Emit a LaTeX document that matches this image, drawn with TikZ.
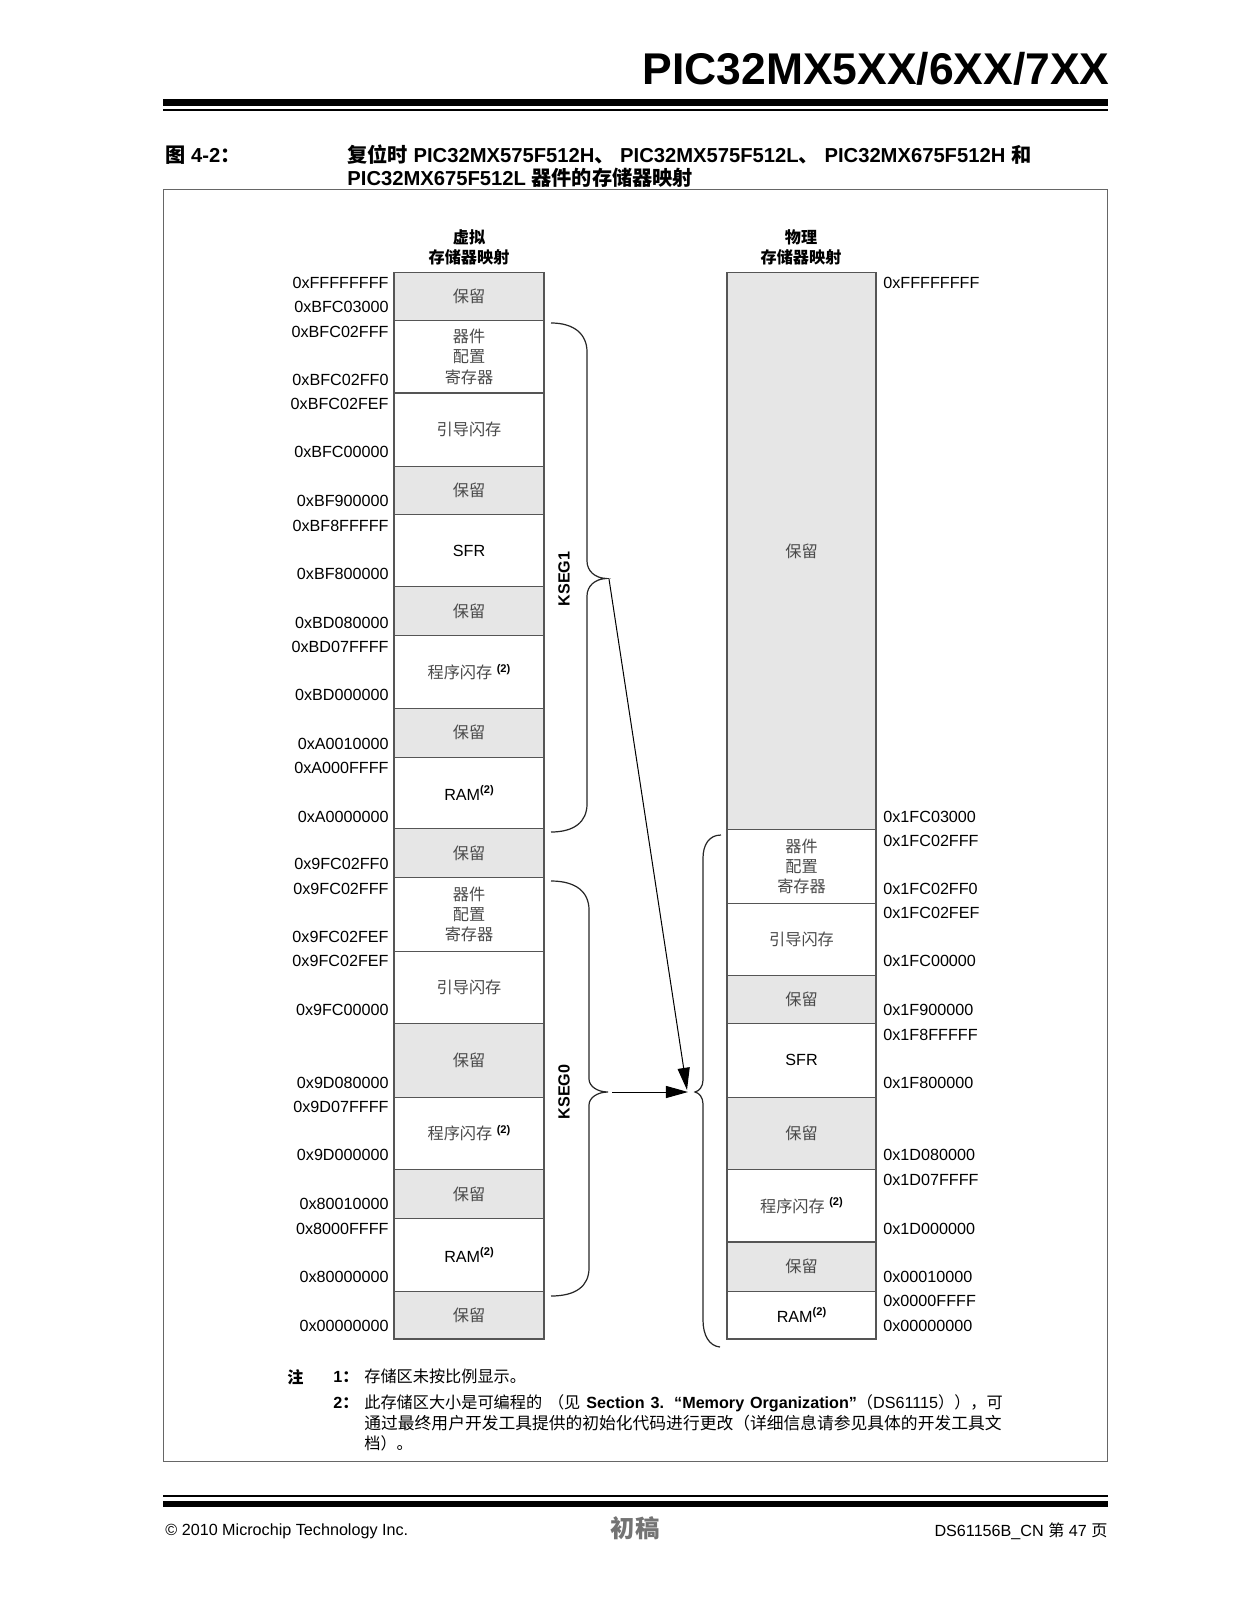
\documentclass[tikz,border=0pt]{standalone}
\usepackage{fontspec}
\setmainfont{Liberation Sans}
\newfontfamily\cjk{Noto Sans CJK SC}
\usetikzlibrary{arrows.meta}
\definecolor{resgray}{HTML}{E6E6E6}
\definecolor{boxline}{HTML}{555555}
\definecolor{cjkgray}{HTML}{4A4A4A}
\newcommand\zh[1]{{\cjk #1}}
\newcommand\zg[1]{{\cjk\color{cjkgray}#1}}
\newcommand\supb{\raisebox{3.2pt}{\bfseries\fontsize{5.5}{6}\selectfont(2)}}
\newcommand\memcell[7]{%
  \draw[#2] (#3,#4) rectangle (#5,#6);
  \node[celltxt] (#1) at ({(#3+#5)/2},{(#4+#6)/2}) {#7};}
\tikzset{
  rescell/.style={fill=resgray,draw=boxline,line width=0.6pt},
  memcellstyle/.style={fill=white,draw=boxline,line width=0.6pt},
  celltxt/.style={inner sep=0pt,align=center,font=\fontsize{8}{10}\selectfont},
  addrtxt/.style={inner sep=0pt,font=\fontsize{8}{10}\selectfont},
  colhdr/.style={inner sep=0pt,align=center,font=\cjk\bfseries\fontsize{8}{10}\selectfont},
  ksegtxt/.style={inner sep=0pt,rotate=90,font=\bfseries\fontsize{8}{10}\selectfont},
  bracestyle/.style={draw=black!85,line width=0.6pt},
  arrowstyle/.style={draw=black,line width=0.5pt,-{Triangle[length=11pt,width=6pt]}},
  notetxt/.style={inner sep=0pt,anchor=west,font=\fontsize{8}{10}\selectfont},
  captxt/.style={inner sep=0pt,anchor=base west,font=\bfseries\fontsize{10}{12}\selectfont}
}
\begin{document}
\begin{tikzpicture}[x=0.495pt,y=-0.495pt]
\useasboundingbox (0,0) rectangle (1237,1600);
% page header
\node[inner sep=0pt,anchor=base east,font=\bfseries\fontsize{22}{26}\selectfont] (ptitle) at (1110,84.7) {PIC32MX5XX/6XX/7XX};
\draw[line width=3.5pt] (163,102.5) -- (1108,102.5);
\draw[line width=1pt] (163,110) -- (1108,110);
% caption
\node[captxt] (fignum) at (165,162.3) {\zh{图} 4-2\zh{：}};
\node[captxt] (cap1) at (347,162.3) {\zh{复位时} PIC32MX575F512H\zh{、} PIC32MX575F512L\zh{、} PIC32MX675F512H \zh{和}};
\node[captxt] (cap2) at (347,185.7) {PIC32MX675F512L \zh{器件的存储器映射}};
% frame
\draw[draw=black!60,line width=0.5pt] (163.3,189.8) rectangle (1107.4,1461.5);
% column headers
\node[colhdr] (vhdr) at (469,247) {虚拟\\存储器映射};
\node[colhdr] (phdr) at (801,247) {物理\\存储器映射};
% left column
\memcell{L1}{rescell}{394}{272.5}{544}{320.5}{\zg{保留}}
\memcell{L2}{memcellstyle}{394}{320.5}{544}{393}{\zg{器件}\\\zg{配置}\\\zg{寄存器}}
\memcell{L3}{memcellstyle}{394}{393}{544}{466.4}{\zg{引导闪存}}
\memcell{L4}{rescell}{394}{466.4}{544}{514.4}{\zg{保留}}
\memcell{L5}{memcellstyle}{394}{514.4}{544}{586.8}{SFR}
\memcell{L6}{rescell}{394}{586.8}{544}{635.8}{\zg{保留}}
\memcell{L7}{memcellstyle}{394}{635.8}{544}{708.3}{\zg{程序闪存} \supb}
\memcell{L8}{rescell}{394}{708.3}{544}{757.3}{\zg{保留}}
\memcell{L9}{memcellstyle}{394}{757.3}{544}{828.7}{RAM\supb}
\memcell{L10}{rescell}{394}{828.7}{544}{877.7}{\zg{保留}}
\memcell{L11}{memcellstyle}{394}{877.7}{544}{951.2}{\zg{器件}\\\zg{配置}\\\zg{寄存器}}
\memcell{L12}{memcellstyle}{394}{951.2}{544}{1023.7}{\zg{引导闪存}}
\memcell{L13}{rescell}{394}{1023.7}{544}{1097.1}{\zg{保留}}
\memcell{L14}{memcellstyle}{394}{1097.1}{544}{1169.6}{\zg{程序闪存} \supb}
\memcell{L15}{rescell}{394}{1169.6}{544}{1218.6}{\zg{保留}}
\memcell{L16}{memcellstyle}{394}{1218.6}{544}{1291.1}{RAM\supb}
\memcell{L17}{rescell}{394}{1291.1}{544}{1339}{\zg{保留}}
% right column
\memcell{R1}{rescell}{727}{272.5}{876}{829.7}{\zg{保留}}
\memcell{R2}{memcellstyle}{727}{829.7}{876}{903.2}{\zg{器件}\\\zg{配置}\\\zg{寄存器}}
\memcell{R3}{memcellstyle}{727}{903.2}{876}{975.7}{\zg{引导闪存}}
\memcell{R4}{rescell}{727}{975.7}{876}{1023.7}{\zg{保留}}
\memcell{R5}{memcellstyle}{727}{1023.7}{876}{1097.1}{SFR}
\memcell{R6}{rescell}{727}{1097.1}{876}{1169.6}{\zg{保留}}
\memcell{R7}{memcellstyle}{727}{1169.6}{876}{1242}{\zg{程序闪存} \supb}
\memcell{R8}{rescell}{727}{1242}{876}{1291.1}{\zg{保留}}
\memcell{R9}{memcellstyle}{727}{1291.1}{876}{1339}{RAM\supb}
% left addresses
\foreach \t/\yy [count=\i] in {0xFFFFFFFF/282.7,0xBFC03000/307.2,0xBFC02FFF/331.7,0xBFC02FF0/379.7,0xBFC02FEF/404.2,0xBFC00000/452.1,0xBF900000/501.1,0xBF8FFFFF/525.6,0xBF800000/573.6,0xBD080000/622.6,0xBD07FFFF/647.1,0xBD000000/695.0,0xA0010000/744.0,0xA000FFFF/767.5,0xA0000000/816.5,0x9FC02FF0/864.4,0x9FC02FFF/888.9,0x9FC02FEF/936.9,0x9FC02FEF/961.4,0x9FC00000/1010.4,0x9D080000/1082.9,0x9D07FFFF/1107.4,0x9D000000/1155.3,0x80010000/1204.3,0x8000FFFF/1228.8,0x80000000/1276.8,0x00000000/1325.8}
  \node[addrtxt,anchor=east] (la\i) at (389,\yy) {\t};
% right addresses
\foreach \t/\yy [count=\i] in {0xFFFFFFFF/282.7,0x1FC03000/816.5,0x1FC02FFF/841,0x1FC02FF0/888.9,0x1FC02FEF/913.4,0x1FC00000/961.4,0x1F900000/1010.4,0x1F8FFFFF/1034.9,0x1F800000/1082.9,0x1D080000/1155.3,0x1D07FFFF/1179.8,0x1D000000/1228.8,0x00010000/1276.8,0x0000FFFF/1301.3,0x00000000/1325.8}
  \node[addrtxt,anchor=west] (ra\i) at (883,\yy) {\t};
% braces
\draw[bracestyle] (551,323) .. controls (574,323) and (587,334) .. (587,352) -- (587,561) .. controls (587,571) and (595,578) .. (606,578.5) .. controls (595,579) and (587,586) .. (587,596) -- (587,804) .. controls (587,822) and (574,832) .. (551,832);
\draw[bracestyle] (551,881) .. controls (576,881) and (589,892) .. (589,910) -- (589,1079) .. controls (589,1086) and (597,1092) .. (608,1092) .. controls (597,1092) and (589,1098) .. (589,1105) -- (589,1268) .. controls (589,1286) and (576,1296) .. (551,1296);
\draw[bracestyle] (721,835) .. controls (709,835) and (703,845) .. (703,858) -- (703,1080) .. controls (703,1087) and (699,1091) .. (695,1092) .. controls (699,1093) and (703,1097) .. (703,1104) -- (703,1320) .. controls (703,1335) and (709,1346) .. (720,1347);
\node[ksegtxt] (kseg1) at (564,579) {KSEG1};
\node[ksegtxt] (kseg0) at (564,1092) {KSEG0};
% arrows
\coordinate (k1s) at (609,579);
\coordinate (k0s) at (612,1092);
\coordinate (tgt1) at (687,1090);
\coordinate (tgt0) at (688,1092);
\draw[arrowstyle] (k1s) -- (tgt1);
\draw[arrowstyle] (k0s) -- (tgt0);
% notes
\node[notetxt,font=\cjk\bfseries\fontsize{8}{10}\selectfont] (zhu) at (287,1376.8) {注};
\node[notetxt,font=\bfseries\fontsize{8}{10}\selectfont] (n1) at (333,1376.8) {1\zh{：}};
\node[notetxt] (t1) at (364,1376.8) {\zh{存储区未按比例显示。}};
\node[notetxt,font=\bfseries\fontsize{8}{10}\selectfont] (n2) at (333,1403.4) {2\zh{：}};
\node[notetxt] (t2) at (364,1403.4) {\makebox[316pt][s]{\zh{此存储区大小是可编程的} \zh{（见} {\bfseries Section 3. “Memory Organization”}\zh{（}DS61115\zh{））}\zh{，可}}};
\node[notetxt,font=\fontsize{8.3}{10}\selectfont] (t3) at (364,1422.8) {\zh{通过最终用户开发工具提供的初始化代码进行更改（详细信息请参见具体的开发工具文}};
\node[notetxt] (t4) at (364,1443.2) {\zh{档）。}};
% footer
\draw[line width=1pt] (163,1496) -- (1108,1496);
\draw[line width=3pt] (163,1504) -- (1108,1504);
\node[inner sep=0pt,anchor=west,font=\fontsize{8}{10}\selectfont] (copy) at (165,1531) {© 2010 Microchip Technology Inc.};
\node[inner sep=0pt,font=\cjk\bfseries\fontsize{12}{14}\selectfont,text=black!55] (draft) at (635,1528) {初稿};
\node[inner sep=0pt,anchor=east,font=\fontsize{8}{10}\selectfont] (docid) at (1108,1531) {DS61156B\_CN \zh{第} 47 \zh{页}};
\end{tikzpicture}
\end{document}
